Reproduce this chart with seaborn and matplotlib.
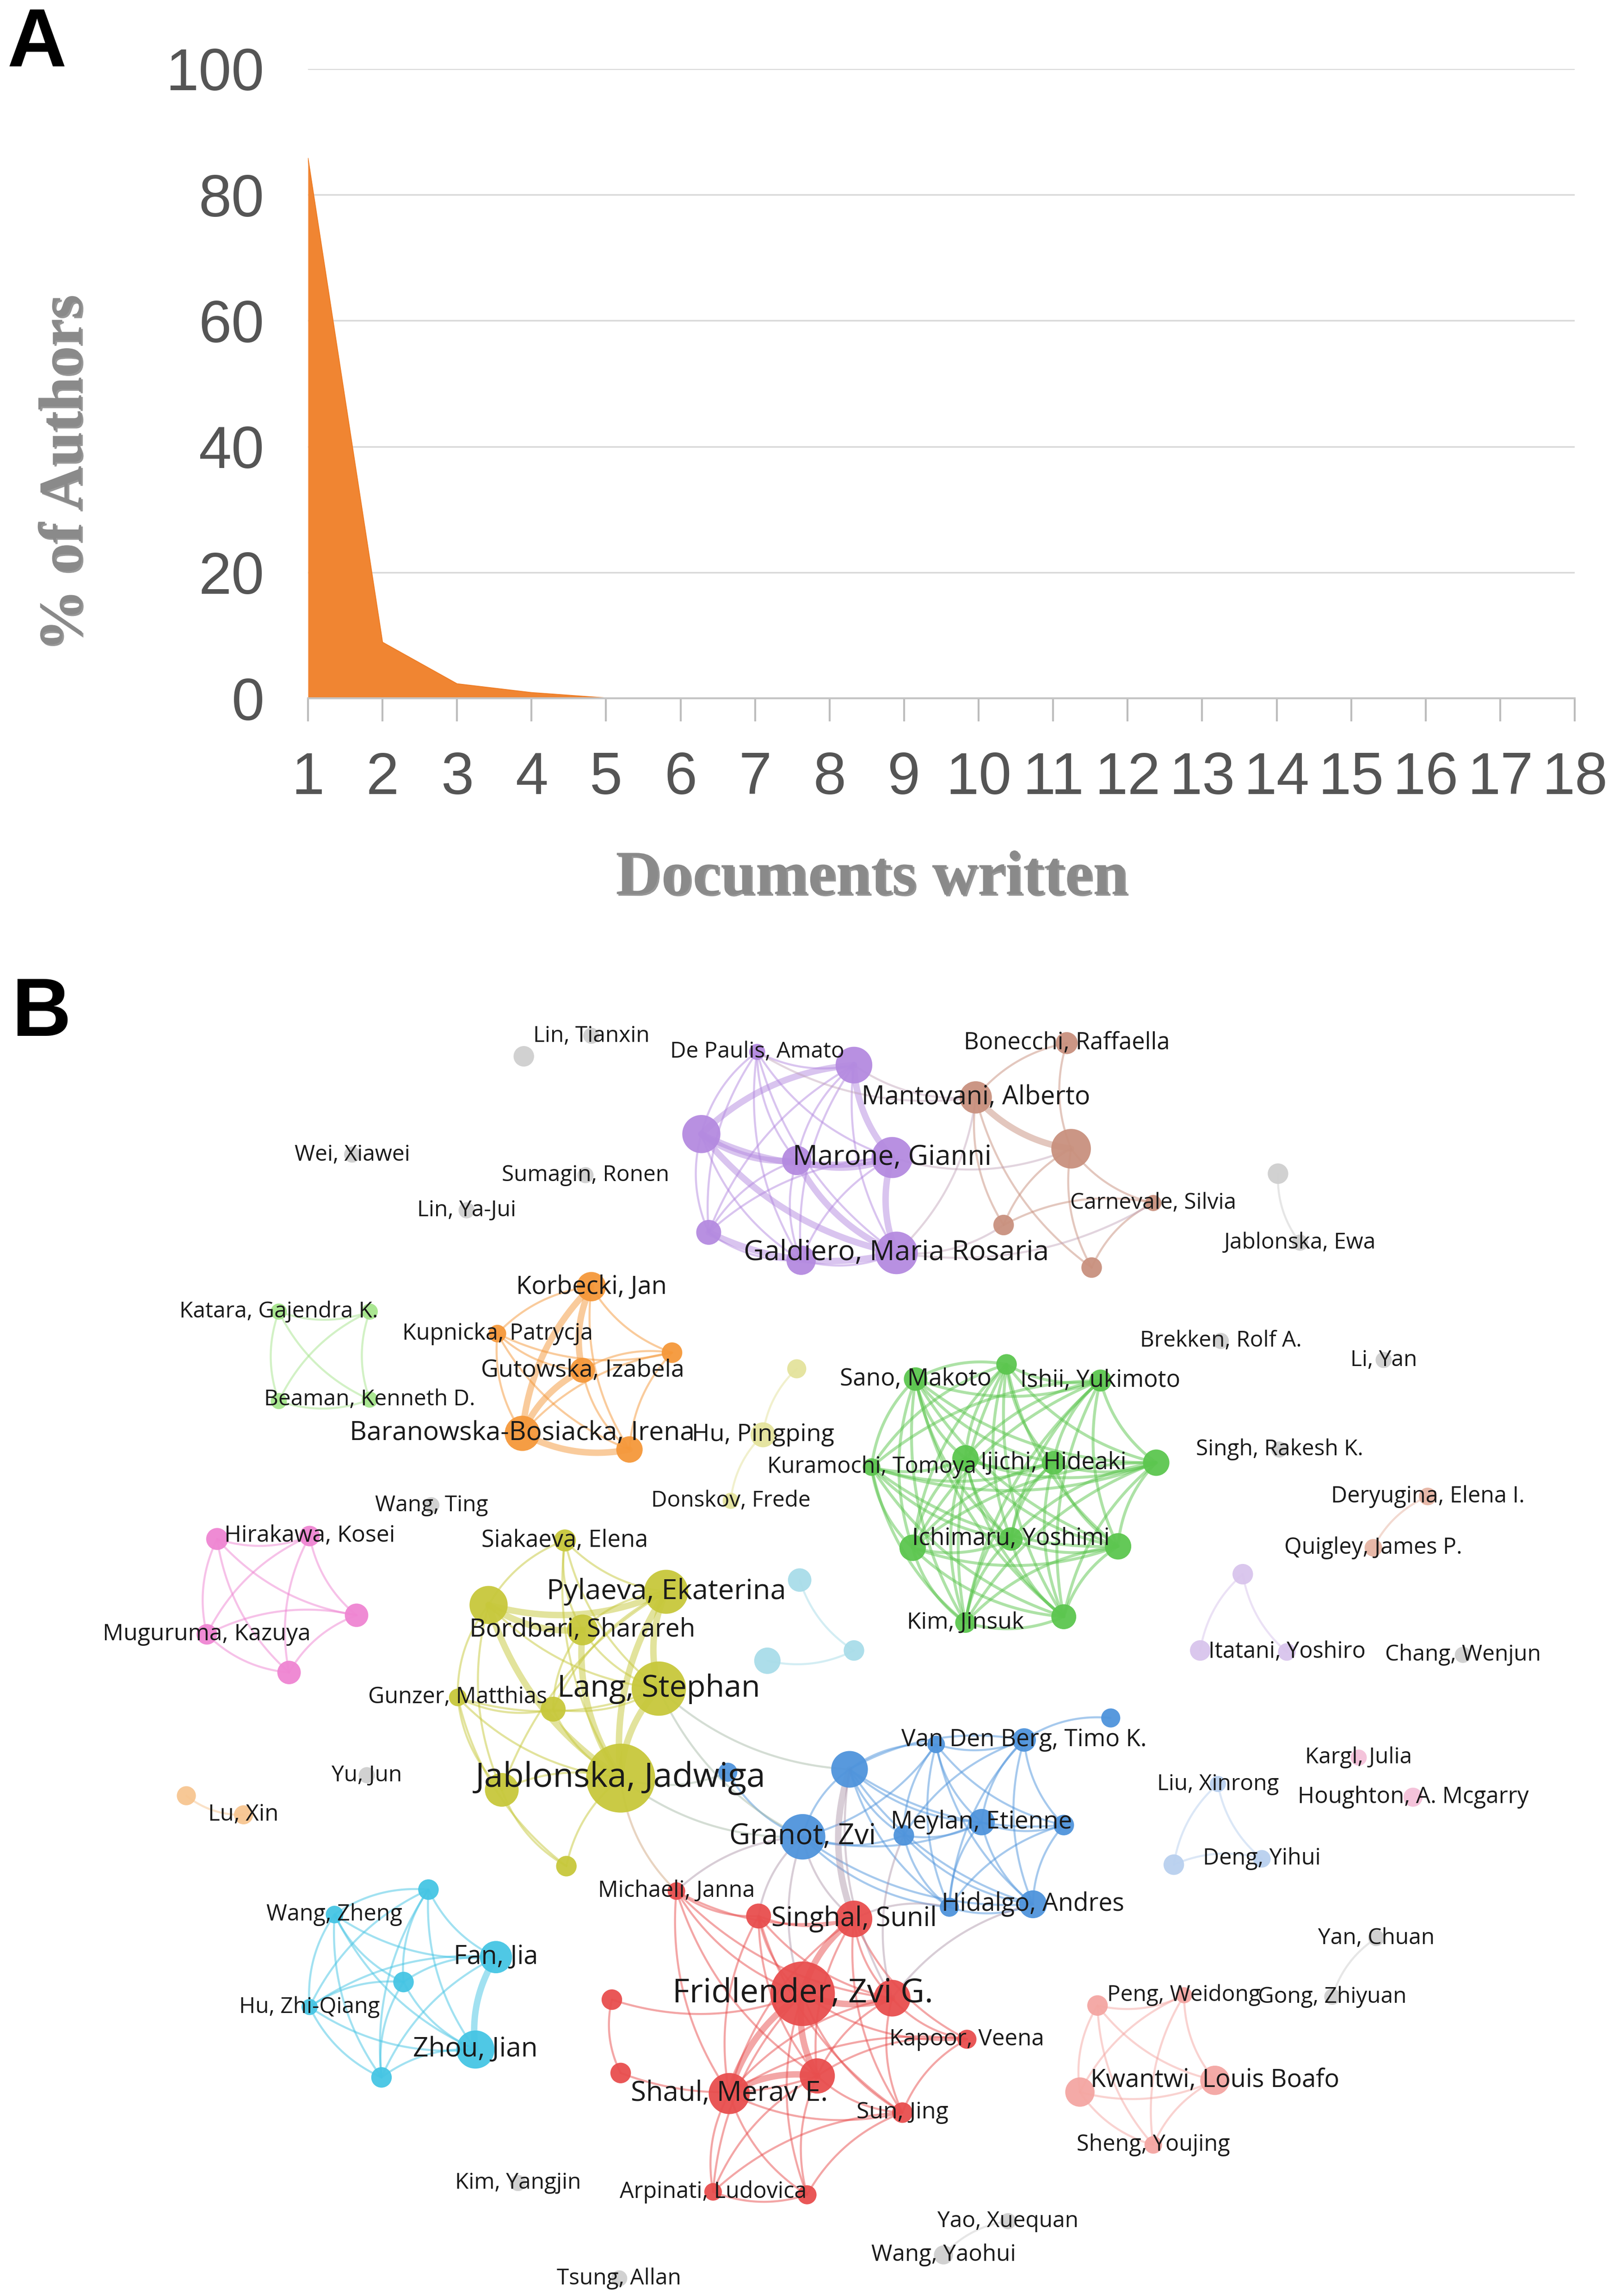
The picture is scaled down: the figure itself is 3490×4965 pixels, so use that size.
import numpy as np
import pandas as pd
import matplotlib
matplotlib.use("Agg")
import matplotlib.pyplot as plt
import matplotlib.patheffects as pe
from matplotlib import font_manager
from matplotlib.collections import LineCollection
from matplotlib.colors import to_rgb
from itertools import combinations
import seaborn as sns

# ---------------- panel A data ----------------
docs_written = list(range(1, 19))
pct_authors = [85.8, 8.9, 2.3, 0.9, 0.05, 0, 0, 0, 0, 0, 0, 0, 0, 0, 0, 0, 0, 0]
y_ticks = [0, 20, 40, 60, 80, 100]

# ---------------- panel B data (layout coords of the map) ----------------
node_id = [
    "pu1", "pu2", "pu3", "pu4", "pu5", "pu6", "pu7", "pu8",
    "br1", "br2", "br3", "br4", "br5", "br6",
    "g1", "g2", "g3", "g4", "g5", "g6", "g7", "g8", "g9", "g10",
    "g11", "g12", "g13", "g14", "g15", "g16", "g17", "g18", "g19",
    "lg1", "lg2", "lg3", "lg4",
    "or1", "or2", "or3", "or4", "or5", "or6",
    "py1", "py2", "py3",
    "gr1", "gr2", "gr3", "gr4", "gr5", "gr6", "gr7", "gr8", "gr9", "gr10", "gr11", "gr12",
    "pe1", "pe2",
    "la1", "la2", "la3",
    "pk1", "pk2", "pk3", "pk4", "pk5",
    "ye1", "ye2", "ye3", "ye4", "ye5", "ye6", "ye7", "ye8", "ye9", "ye10",
    "cl1", "cl2", "cl3",
    "lo1", "lo2",
    "bl1", "bl2", "bl3", "bl4", "bl5", "bl6", "bl7", "bl8", "bl9", "bl10", "bl11",
    "lb1", "lb2", "lb3",
    "lp1", "lp2",
    "re1", "re2", "re3", "re4", "re5", "re6", "re7", "re8", "re9", "re10", "re11", "re12", "re13",
    "sa1", "sa2", "sa3", "sa4", "sa5",
    "cy1", "cy2", "cy3", "cy4", "cy5", "cy6", "cy7",
]
node_x = [
    516, 582, 478, 543, 608, 483, 546, 611,
    727, 665, 730, 786, 684, 744,
    357, 403, 240, 399, 318, 871, 886, 832, 943, 872,
    294, 250, 353, 422, 687, 643, 997, 938, 908,
    190, 252, 190, 252,
    403, 339, 458, 397, 356, 429,
    543, 520, 498,
    686, 624, 750, 594, 658, 718, 788, 622, 689, 762, 658, 725,
    973, 936,
    847, 818, 877,
    148, 211, 243, 141, 197,
    385, 333, 454, 397, 312, 377, 449, 423, 342, 386,
    545, 523, 582,
    127, 166,
    757, 638, 698, 579, 496, 547, 616, 669, 725, 647, 704,
    830, 860, 800,
    926, 963,
    461, 517, 582, 417, 547, 608, 659, 423, 557, 497, 615, 486, 550,
    748, 807, 736, 828, 786,
    292, 228, 338, 275, 211, 324, 260,
]
node_y = [
    717, 726, 773, 791, 789, 840, 859, 854,
    711, 748, 783, 820, 835, 864,
    720, 706, 787, 801, 825, 800, 847, 914, 927, 988,
    1026, 1210, 1488, 1553, 1514, 1537, 1128, 1321, 1361,
    894, 894, 955, 954,
    877, 909, 922, 934, 977, 988,
    933, 978, 1023,
    930, 940, 941, 1000, 994, 997, 997, 1055, 1049, 1054, 1106, 1102,
    1020, 1055,
    1073, 1125, 1126,
    1049, 1047, 1101, 1114, 1140,
    1050, 1094, 1085, 1111, 1157, 1165, 1151, 1212, 1220, 1272,
    1077, 1132, 1125,
    1224, 1237,
    1171, 1189, 1186, 1206, 1208, 1252, 1251, 1242, 1244, 1300, 1298,
    1216, 1267, 1271,
    1198, 1225,
    1289, 1306, 1308, 1363, 1359, 1362, 1390, 1413, 1415, 1427, 1440, 1494, 1496,
    1367, 1360, 1426, 1418, 1462,
    1288, 1305, 1334, 1351, 1368, 1397, 1416,
]
node_weight = [
    5.5, 12.5, 13, 10, 14, 8.5, 10, 14.5,
    7.5, 11, 13.5, 5.5, 7, 7,
    7, 5.5, 5.5, 5.5, 5.5, 7, 5.5, 5.5, 5.5, 5.5,
    5.5, 5.5, 5.5, 5.5, 5.5, 6.5, 5.5, 5.5, 5.5,
    5.5, 5.5, 5.5, 5.5,
    10, 6, 7, 8.5, 12, 9,
    6.5, 8.5, 5.5,
    7, 8, 7.5, 6, 9, 8, 9, 9, 8, 9, 7, 8.5,
    6, 6,
    7, 7, 6,
    7.5, 7, 8, 7, 8,
    7.5, 13, 15, 10.5, 6, 8.5, 18.5, 23.5, 11.5, 7,
    8, 9, 7,
    6.5, 6.5,
    6.5, 6, 8, 12.5, 6.5, 15.5, 7, 9, 7, 6.5, 9.5,
    5.5, 6, 7,
    5.5, 6.5,
    6, 8.5, 12.5, 7, 22, 12.5, 6.5, 7, 12, 14, 7, 6, 6.5,
    7, 5.5, 10, 10, 6,
    7, 6, 11, 7, 5.5, 13, 7,
]
node_label = [
    "De Paulis, Amato", "", "", "", "Marone, Gianni", "", "", "Galdiero, Maria Rosaria",
    "Bonecchi, Raffaella", "Mantovani, Alberto", "", "Carnevale, Silvia", "", "",
    "", "Lin, Tianxin", "Wei, Xiawei", "Sumagin, Ronen", "Lin, Ya-Jui", "", "Jablonska, Ewa",
    "Brekken, Rolf A.", "Li, Yan", "Singh, Rakesh K.",
    "Wang, Ting", "Yu, Jun", "Kim, Yangjin", "Tsung, Allan", "Yao, Xuequan", "Wang, Yaohui",
    "Chang, Wenjun", "Yan, Chuan", "Gong, Zhiyuan",
    "Katara, Gajendra K.", "", "", "Beaman, Kenneth D.",
    "Korbecki, Jan", "Kupnicka, Patrycja", "", "Gutowska, Izabela", "Baranowska-Bosiacka, Irena", "",
    "", "Hu, Pingping", "Donskov, Frede",
    "", "Sano, Makoto", "Ishii, Yukimoto", "Kuramochi, Tomoya", "", "Ijichi, Hideaki", "", "",
    "Ichimaru, Yoshimi", "", "Kim, Jinsuk", "",
    "Deryugina, Elena I.", "Quigley, James P.",
    "", "", "Itatani, Yoshiro",
    "", "Hirakawa, Kosei", "", "Muguruma, Kazuya", "",
    "Siakaeva, Elena", "", "Pylaeva, Ekaterina", "Bordbari, Sharareh", "Gunzer, Matthias", "",
    "Lang, Stephan", "Jablonska, Jadwiga", "", "",
    "", "", "",
    "", "Lu, Xin",
    "", "", "Van Den Berg, Timo K.", "", "", "Granot, Zvi", "", "Meylan, Etienne", "", "",
    "Hidalgo, Andres",
    "Liu, Xinrong", "Deng, Yihui", "",
    "Kargl, Julia", "Houghton, A. Mcgarry",
    "Michaeli, Janna", "", "Singhal, Sunil", "", "Fridlender, Zvi G.", "", "Kapoor, Veena", "", "",
    "Shaul, Merav E.", "Sun, Jing", "Arpinati, Ludovica", "",
    "", "Peng, Weidong", "", "Kwantwi, Louis Boafo", "Sheng, Youjing",
    "", "Wang, Zheng", "Fan, Jia", "", "Hu, Zhi-Qiang", "Zhou, Jian", "",
]

# clusters where every pair of authors co-published
complete_clusters = [
    ["pu1", "pu2", "pu3", "pu4", "pu5", "pu6", "pu7", "pu8"],
    ["gr1", "gr2", "gr3", "gr4", "gr5", "gr6", "gr7", "gr8", "gr9", "gr10", "gr11", "gr12"],
    ["or1", "or2", "or3", "or4", "or5", "or6"],
    ["lg1", "lg2", "lg3", "lg4"],
    ["pk1", "pk2", "pk3", "pk4", "pk5"],
    ["cy1", "cy2", "cy3", "cy4", "cy5", "cy6", "cy7"],
    ["sa1", "sa2", "sa3", "sa4", "sa5"],
]
other_links = """
br1-br2 br1-br3 br2-br3 br2-br5 br2-br6 br3-br4 br3-br5 br3-br6 br4-br6 br4-br5
ye1-ye2 ye1-ye3 ye1-ye4 ye1-ye7 ye1-ye8 ye2-ye3 ye2-ye4 ye2-ye7 ye2-ye8 ye2-ye5 ye2-ye9
ye3-ye4 ye3-ye7 ye3-ye8 ye3-ye6 ye4-ye7 ye4-ye8 ye4-ye6 ye5-ye8 ye5-ye7 ye5-ye6 ye5-ye9
ye5-ye10 ye6-ye8 ye6-ye7 ye7-ye8 ye8-ye9 ye8-ye10 ye9-ye10 ye3-ye9
bl1-bl3 bl2-bl3 bl2-bl4 bl2-bl7 bl2-bl8 bl2-bl9 bl2-bl10 bl2-bl11 bl3-bl4 bl3-bl8 bl3-bl9
bl3-bl10 bl3-bl11 bl3-bl7 bl4-bl6 bl4-bl7 bl4-bl8 bl4-bl9 bl4-bl10 bl4-bl11 bl5-bl6 bl6-bl7
bl6-bl8 bl6-bl10 bl6-bl11 bl6-bl2 bl7-bl8 bl7-bl10 bl7-bl11 bl8-bl9 bl8-bl10 bl8-bl11
bl9-bl11 bl9-bl10 bl10-bl11
re1-re2 re1-re3 re1-re5 re1-re6 re1-re10 re1-re9 re2-re3 re2-re5 re2-re6 re2-re9 re2-re10
re2-re11 re3-re5 re3-re6 re3-re9 re3-re10 re3-re7 re3-re11 re4-re8 re4-re5 re8-re9
re5-re6 re5-re7 re5-re9 re5-re10 re5-re11 re5-re12 re5-re13 re6-re7 re6-re9 re6-re10
re6-re11 re7-re9 re7-re10 re7-re11 re9-re10 re9-re11 re9-re12 re9-re13 re10-re11
re10-re12 re10-re13 re11-re13 re12-re13 re11-re12
py1-py2 py2-py3 pe1-pe2 la1-la2 la1-la3 cl1-cl3 cl2-cl3 lo1-lo2 lb1-lb2 lb1-lb3 lb2-lb3
g6-g7 g18-g19 g15-g16
pu2-br2 pu1-br2 pu5-br3 pu8-br5 pu8-br2 pu8-br4
ye8-bl6 ye8-bl5 ye7-bl4 ye7-bl6 bl4-re3 bl4-re6 bl6-re3 bl6-re2 bl6-re5 bl6-re1 bl7-re6
bl11-re6 bl10-re3 ye8-re1
"""
strong_links = """
pu3-pu5 pu3-pu4 pu4-pu5 pu5-pu8 pu6-pu8 pu2-pu5 pu3-pu8 pu4-pu8 pu2-pu3 br2-br3
or1-or4 or1-or5 or5-or6 or4-or5 ye2-ye3 ye3-ye8 ye7-ye8 ye2-ye8 ye3-ye7 ye4-ye8 ye2-ye4
cy3-cy6 re5-re10 re3-re5 re5-re6 re5-re9 re9-re10 bl4-re3
"""

cluster_of_prefix = {
    "pu": "purple", "br": "brown", "g": "gray", "lg": "lightgreen", "or": "orange",
    "py": "paleyellow", "gr": "green", "pe": "peach", "la": "lavender", "pk": "pink",
    "ye": "olive", "cl": "lightcyan", "lo": "lightorange", "bl": "blue", "lb": "lightblue",
    "lp": "lightpink", "re": "red", "sa": "salmon", "cy": "cyan",
}
cluster_colors = {
    "purple": "#b48ae0", "brown": "#c9917e", "gray": "#cfcfcf", "lightgreen": "#a6e58c",
    "orange": "#f5983a", "paleyellow": "#e4e39c", "green": "#5cc64f", "peach": "#e6b4a3",
    "lavender": "#d8c4ec", "pink": "#ef85d2", "olive": "#c7c83b", "lightcyan": "#a9dde9",
    "lightorange": "#f7c590", "blue": "#4f94dc", "lightblue": "#b9d0ef", "lightpink": "#f4c0d8",
    "red": "#e84e4e", "salmon": "#f4a6a2", "cyan": "#45c5e4",
}

# ---------------- figure ----------------
sns.set_style("white")
available = {f.name for f in font_manager.fontManager.ttflist}
narrow = "Liberation Sans Narrow" if "Liberation Sans Narrow" in available else "Liberation Sans"
plt.rcParams["font.family"] = ["Open Sans", "DejaVu Sans"]

W, H = 3490, 4965
fig = plt.figure(figsize=(W / 100, H / 100), dpi=100)
fig.patch.set_facecolor("white")

# ---- panel A
ax_a = fig.add_axes([666 / W, 1 - 1510 / H, (3405 - 666) / W, (1510 - 149) / H])
orange = "#f08532"
ax_a.fill_between(docs_written, pct_authors, 0, color=orange, lw=0, zorder=2)
sns.lineplot(x=docs_written, y=pct_authors, ax=ax_a, color="#ee7d26", lw=1.5, zorder=3)
ax_a.set_xlim(1, 18)
ax_a.set_ylim(0, 100)
ax_a.set_xticks(docs_written)
ax_a.set_yticks(y_ticks)
ax_a.grid(axis="y", color="#d9d9d9", lw=2.5, zorder=0)
ax_a.grid(axis="x", visible=False)
for s in ["top", "right", "left"]:
    ax_a.spines[s].set_visible(False)
ax_a.spines["bottom"].set_color("#c4c4c4")
ax_a.spines["bottom"].set_linewidth(3)
ax_a.spines["bottom"].set_zorder(4)
tick_fs = 108 if narrow != "Liberation Sans" else 92
ax_a.tick_params(axis="y", left=False, length=0, pad=68, labelsize=tick_fs, labelcolor="#555555")
ax_a.tick_params(axis="x", bottom=True, length=36, width=3, color="#bdbdbd", pad=46,
                 labelsize=tick_fs, labelcolor="#555555", direction="out")
for lab in ax_a.get_xticklabels() + ax_a.get_yticklabels():
    lab.set_fontfamily([narrow, "DejaVu Sans"])
ax_a.set_xlabel("")
ax_a.set_ylabel("")

shadow = [pe.withSimplePatchShadow(offset=(2.5, -2.5), shadow_rgbFace="#444444", alpha=0.55)]
fig.text(143 / W, 1 - 1022 / H, "% of Authors", rotation=90, ha="center", va="center",
         fontsize=96, fontweight="bold", color="#8a8a8a",
         family=["Liberation Serif", "DejaVu Serif"], path_effects=shadow)
fig.text(1885 / W, 1 - 1901 / H, "Documents written", ha="center", va="center",
         fontsize=98, fontweight="bold", color="#8a8a8a",
         family=["Liberation Serif", "DejaVu Serif"], path_effects=shadow)

fig.text(16 / W, 1 - 143 / H, "A", ha="left", va="baseline", fontsize=128,
         fontweight="bold", family=["Liberation Sans", "DejaVu Sans"], color="black")
fig.text(25 / W, 1 - 2240 / H, "B", ha="left", va="baseline", fontsize=128,
         fontweight="bold", family=["Liberation Sans", "DejaVu Sans"], color="black")

# ---- panel B
ax_b = fig.add_axes([0, 0, 1, (1565 - 640) / 1565])
ax_b.set_xlim(0, 1100)
ax_b.set_ylim(1565, 640)
ax_b.axis("off")

nodes = pd.DataFrame({
    "id": node_id, "x": node_x, "y": node_y, "w": node_weight, "label": node_label,
})
nodes["cluster"] = [cluster_of_prefix[i.rstrip("0123456789")] for i in nodes["id"]]
pos = {r.id: (r.x, r.y) for r in nodes.itertuples()}
clus = dict(zip(nodes["id"], nodes["cluster"]))

links = []
for members in complete_clusters:
    links += list(combinations(members, 2))
links += [tuple(t.split("-")) for t in other_links.split()]
strong = {frozenset(t.split("-")) for t in strong_links.split()}

px_per_unit = W / 1100  # figure pixels per map unit
t = np.linspace(0, 1, 40)[:, None]
segs, cols, lws = [], [], []
for a, b in links:
    p0 = np.array(pos[a], float)
    p1 = np.array(pos[b], float)
    d = p1 - p0
    ctrl = (p0 + p1) / 2 + np.array([-d[1], d[0]]) * 0.18
    curve = (1 - t) ** 2 * p0 + 2 * (1 - t) * t * ctrl + t ** 2 * p1
    segs.append(curve)
    ca = np.array(to_rgb(cluster_colors[clus[a]]))
    cb = np.array(to_rgb(cluster_colors[clus[b]]))
    if clus[a] == clus[b]:
        c = ca
        alpha = 0.5
    else:
        c = (ca + cb) / 2 * 0.6 + 0.4 * np.array([0.75, 0.75, 0.75])
        alpha = 0.45
    cols.append((*c, alpha))
    if frozenset((a, b)) in strong:
        lws.append(10)
    elif clus[a] == clus[b] == "green":
        lws.append(4.5)
    else:
        lws.append(3.2)
ax_b.add_collection(LineCollection(segs, colors=cols, linewidths=lws,
                                   capstyle="round", zorder=1))

# node marker areas (points^2) so that the radius matches the map units
nodes["area"] = (2 * nodes["w"] * px_per_unit * 0.72) ** 2
smin, smax = nodes["area"].min(), nodes["area"].max()
sns.scatterplot(data=nodes, x="x", y="y", hue="cluster", palette=cluster_colors,
                size="area", sizes=(smin, smax), size_norm=(smin, smax),
                linewidth=0, alpha=0.95, legend=False, ax=ax_b, zorder=2)
ax_b.set_xlim(0, 1100)
ax_b.set_ylim(1565, 640)

for r in nodes.itertuples():
    if r.label:
        em = 12.6 + 0.45 * r.w
        ax_b.text(r.x, r.y, r.label, ha="center", va="center",
                  fontsize=em * px_per_unit * 0.72, color="#1a1a1a", zorder=3)

fig.savefig("out.png", dpi=100, facecolor="white")
